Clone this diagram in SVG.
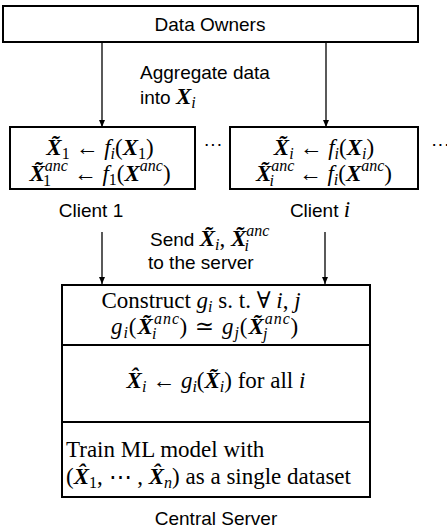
<svg xmlns="http://www.w3.org/2000/svg" width="447" height="529" viewBox="0 0 447 529">
<defs>
<marker id="ah" markerWidth="8" markerHeight="8" refX="7" refY="4" orient="auto" markerUnits="userSpaceOnUse">
<path d="M0,1 L7,4 L0,7 Z" fill="#000"/>
</marker>
<style>
.box{fill:#fff;stroke:#000;stroke-width:2}
.ln{stroke:#000;stroke-width:1.3;fill:none}
.lab{font-family:"Liberation Sans","Open Sans",sans-serif;font-size:19px;fill:#000}
.m{font-family:"Liberation Serif","DejaVu Serif",serif;font-size:23px;fill:#000}
.bx{font-weight:bold;font-style:italic}
.it{font-style:italic}
.sub{font-size:16px}
</style>
</defs>
<rect width="447" height="529" fill="#fff"/>
<g id="connectors">
<line class="ln" x1="102" y1="42" x2="102" y2="127" marker-end="url(#ah)"/>
<line class="ln" x1="326" y1="42" x2="326" y2="127" marker-end="url(#ah)"/>
<line class="ln" x1="102" y1="232" x2="102" y2="284" marker-end="url(#ah)"/>
<line class="ln" x1="325" y1="232" x2="325" y2="284" marker-end="url(#ah)"/>
<text class="lab" x="140" y="79">Aggregate data</text>
<text class="lab" x="140" y="104">into <tspan class="m bx">X</tspan><tspan class="m it sub" dy="4">i</tspan></text>
<text class="lab" x="150" y="246">Send <tspan class="m bx">X̃</tspan><tspan class="m it sub" dy="4">i</tspan><tspan class="m" dy="-4">, </tspan><tspan class="m bx">X̃</tspan><tspan class="m it sub" dy="-10">anc</tspan><tspan class="m it sub" dx="-25" dy="15">i</tspan></text>
<text class="lab" x="148" y="269">to the server</text>
</g>
<g id="data-owners">
<rect class="box" x="3" y="6" width="415" height="36"/>
<text class="lab" x="210" y="31" text-anchor="middle">Data Owners</text>
</g>
<g id="client-1">
<rect class="box" x="10" y="127" width="185" height="62"/>
<text class="m" x="100" y="155" text-anchor="middle"><tspan class="bx">X̃</tspan><tspan class="sub" dy="4">1</tspan><tspan dy="-4"> ← </tspan><tspan class="it">f</tspan><tspan class="it sub" dy="4">i</tspan><tspan dy="-4">(</tspan><tspan class="bx">X</tspan><tspan class="sub" dy="4">1</tspan><tspan dy="-4">)</tspan></text>
<text class="m" x="100" y="181" text-anchor="middle"><tspan class="bx">X̃</tspan><tspan class="it sub" dy="-10">anc</tspan><tspan class="sub" dx="-25" dy="15">1</tspan><tspan dx="17" dy="-5"> ← </tspan><tspan class="it">f</tspan><tspan class="sub" dy="4">1</tspan><tspan dy="-4">(</tspan><tspan class="bx">X</tspan><tspan class="it sub" dy="-10">anc</tspan><tspan dy="10">)</tspan></text>
<text class="lab" x="91" y="217" text-anchor="middle">Client 1</text>
</g>
<text class="lab" x="213" y="150" text-anchor="middle">···</text>
<g id="client-i">
<rect class="box" x="230" y="127" width="188" height="62"/>
<text class="m" x="324" y="155" text-anchor="middle"><tspan class="bx">X̃</tspan><tspan class="it sub" dy="4">i</tspan><tspan dy="-4"> ← </tspan><tspan class="it">f</tspan><tspan class="it sub" dy="4">i</tspan><tspan dy="-4">(</tspan><tspan class="bx">X</tspan><tspan class="it sub" dy="4">i</tspan><tspan dy="-4">)</tspan></text>
<text class="m" x="324" y="181" text-anchor="middle"><tspan class="bx">X̃</tspan><tspan class="it sub" dy="-10">anc</tspan><tspan class="it sub" dx="-25" dy="15">i</tspan><tspan dx="19" dy="-5"> ← </tspan><tspan class="it">f</tspan><tspan class="it sub" dy="4">i</tspan><tspan dy="-4">(</tspan><tspan class="bx">X</tspan><tspan class="it sub" dy="-10">anc</tspan><tspan dy="10">)</tspan></text>
<text class="lab" x="320" y="217" text-anchor="middle">Client <tspan class="m it">i</tspan></text>
</g>
<text class="lab" x="431" y="150">···</text>
<g id="central-server">
<rect class="box" x="62" y="285" width="308" height="212"/>
<line class="box" x1="62" y1="345" x2="370" y2="345"/>
<line class="box" x1="62" y1="422" x2="370" y2="422"/>
<text class="m" x="201" y="308" text-anchor="middle">Construct <tspan class="it">g</tspan><tspan class="it sub" dy="4">i</tspan><tspan dy="-4"> s. t. ∀ </tspan><tspan class="it">i</tspan>, <tspan class="it">j</tspan></text>
<text class="m" x="205" y="334" text-anchor="middle" letter-spacing="1"><tspan class="it">g</tspan><tspan class="it sub" dy="4">i</tspan><tspan dy="-4">(</tspan><tspan class="bx">X̃</tspan><tspan class="it sub" dy="-10">anc</tspan><tspan class="it sub" dx="-28" dy="15">i</tspan><tspan dx="22" dy="-5">) ≃ </tspan><tspan class="it">g</tspan><tspan class="it sub" dy="4">j</tspan><tspan dy="-4">(</tspan><tspan class="bx">X̃</tspan><tspan class="it sub" dy="-10">anc</tspan><tspan class="it sub" dx="-28" dy="15">j</tspan><tspan dx="22" dy="-5">)</tspan></text>
<text class="m" x="216" y="388" text-anchor="middle"><tspan class="bx">X̂</tspan><tspan class="it sub" dy="4">i</tspan><tspan dy="-4"> ← </tspan><tspan class="it">g</tspan><tspan class="it sub" dy="4">i</tspan><tspan dy="-4">(</tspan><tspan class="bx">X̃</tspan><tspan class="it sub" dy="4">i</tspan><tspan dy="-4">) for all </tspan><tspan class="it">i</tspan></text>
<text class="m" x="66" y="457">Train ML model with</text>
<text class="m" x="66" y="484">(<tspan class="bx">X̂</tspan><tspan class="sub" dy="4">1</tspan><tspan dy="-4">, ⋯ , </tspan><tspan class="bx">X̂</tspan><tspan class="it sub" dy="4">n</tspan><tspan dy="-4">) as a single dataset</tspan></text>
<text class="lab" x="216" y="525" text-anchor="middle">Central Server</text>
</g>
</svg>
